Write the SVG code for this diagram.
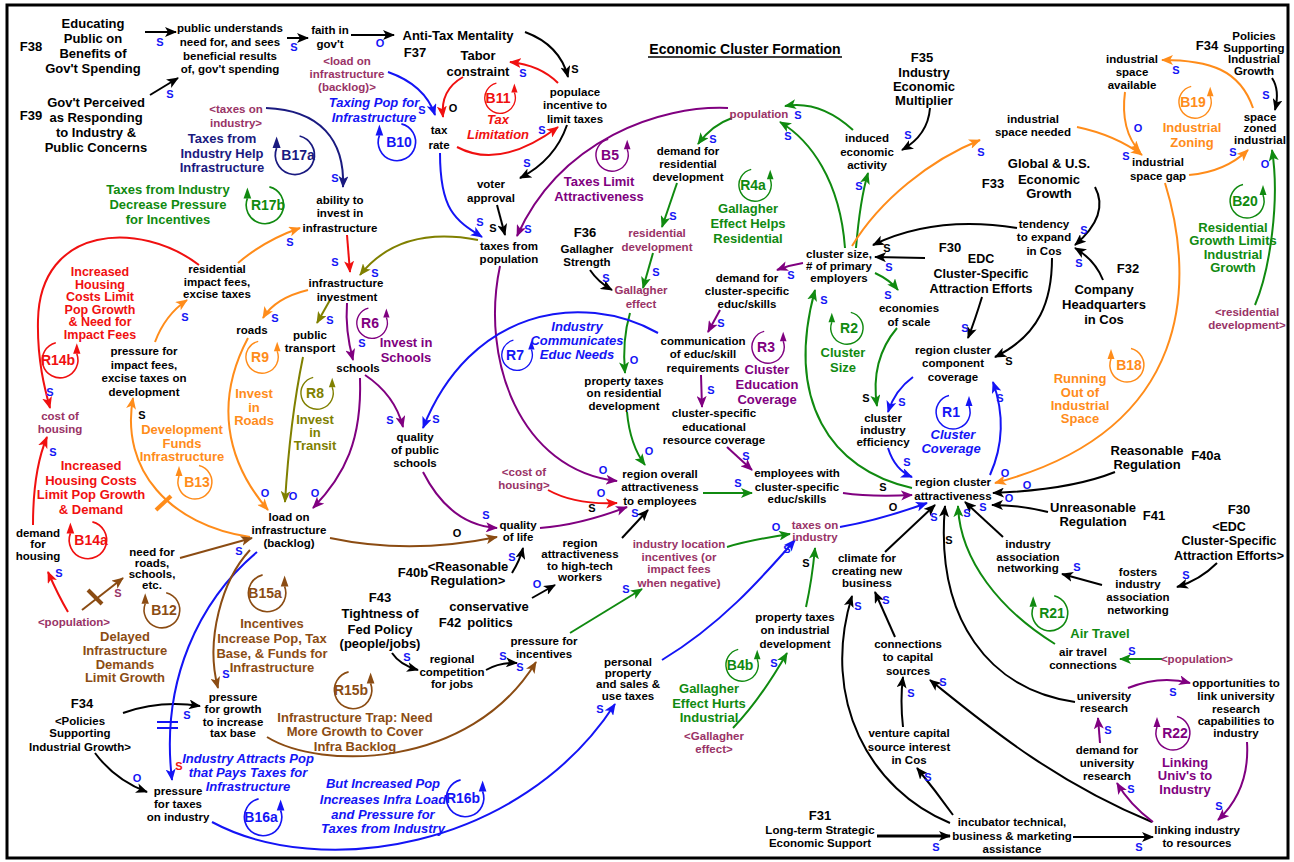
<svg xmlns="http://www.w3.org/2000/svg" width="1294" height="862" viewBox="0 0 1294 862">
<style>
text{font-family:"Liberation Sans",Arial,sans-serif;font-weight:bold;text-anchor:middle}
.n{font-size:11.5px;fill:#000}
.L{font-size:13px;fill:#000}
.m{font-size:11.5px;fill:#993366}
.ps{font-size:11px;fill:#1414f5}
.po{font-size:11px;fill:#1414f5}
.pk{font-size:11px;fill:#000}
.pr{font-size:11px;fill:#f01010}
.pm{font-size:11px;fill:#993366}
.nm{font-size:13px}
.it{font-style:italic}
.id{font-size:14px}
.tg{fill:#108a10}.to{fill:#ff8c1a}.tr{fill:#f01010}.tp{fill:#800080}.tb{fill:#1414f5}.tn{fill:#1a1a80}.tv{fill:#808000}.tw{fill:#8b4c13}
path{fill:none;stroke-width:2}
.ck{stroke:#000;marker-end:url(#mk)}
.cb{stroke:#1414f5;marker-end:url(#mb)}
.cn{stroke:#1a1a80;marker-end:url(#mn)}
.cr{stroke:#f01010;marker-end:url(#mr)}
.cg{stroke:#108a10;marker-end:url(#mg)}
.co{stroke:#ff8c1a;marker-end:url(#mo)}
.cp{stroke:#800080;marker-end:url(#mp)}
.cv{stroke:#808000;marker-end:url(#mv)}
.cw{stroke:#8b4c13;marker-end:url(#mw)}
</style>
<defs>
<marker id="mk" viewBox="0 0 12 10" refX="11" refY="5" markerWidth="12" markerHeight="10" markerUnits="userSpaceOnUse" orient="auto"><path d="M0,0 L12,5 L0,10 L3,5 z" style="fill:#000;stroke:none"/></marker>
<marker id="mb" viewBox="0 0 12 10" refX="11" refY="5" markerWidth="12" markerHeight="10" markerUnits="userSpaceOnUse" orient="auto"><path d="M0,0 L12,5 L0,10 L3,5 z" style="fill:#1414f5;stroke:none"/></marker>
<marker id="mn" viewBox="0 0 12 10" refX="11" refY="5" markerWidth="12" markerHeight="10" markerUnits="userSpaceOnUse" orient="auto"><path d="M0,0 L12,5 L0,10 L3,5 z" style="fill:#1a1a80;stroke:none"/></marker>
<marker id="mr" viewBox="0 0 12 10" refX="11" refY="5" markerWidth="12" markerHeight="10" markerUnits="userSpaceOnUse" orient="auto"><path d="M0,0 L12,5 L0,10 L3,5 z" style="fill:#f01010;stroke:none"/></marker>
<marker id="mg" viewBox="0 0 12 10" refX="11" refY="5" markerWidth="12" markerHeight="10" markerUnits="userSpaceOnUse" orient="auto"><path d="M0,0 L12,5 L0,10 L3,5 z" style="fill:#108a10;stroke:none"/></marker>
<marker id="mo" viewBox="0 0 12 10" refX="11" refY="5" markerWidth="12" markerHeight="10" markerUnits="userSpaceOnUse" orient="auto"><path d="M0,0 L12,5 L0,10 L3,5 z" style="fill:#ff8c1a;stroke:none"/></marker>
<marker id="mp" viewBox="0 0 12 10" refX="11" refY="5" markerWidth="12" markerHeight="10" markerUnits="userSpaceOnUse" orient="auto"><path d="M0,0 L12,5 L0,10 L3,5 z" style="fill:#800080;stroke:none"/></marker>
<marker id="mv" viewBox="0 0 12 10" refX="11" refY="5" markerWidth="12" markerHeight="10" markerUnits="userSpaceOnUse" orient="auto"><path d="M0,0 L12,5 L0,10 L3,5 z" style="fill:#808000;stroke:none"/></marker>
<marker id="mw" viewBox="0 0 12 10" refX="11" refY="5" markerWidth="12" markerHeight="10" markerUnits="userSpaceOnUse" orient="auto"><path d="M0,0 L12,5 L0,10 L3,5 z" style="fill:#8b4c13;stroke:none"/></marker>
<g id="lR"><path d="M-4,-16.5 A17,17 0 1 0 16,-6" style="stroke:currentColor;stroke-width:1.5"/><path d="M16,-16 L12.5,-6 L19.5,-6 z" style="fill:currentColor;stroke:none"/></g>
<g id="lL"><path d="M4,-16.5 A17,17 0 1 1 -16,-6" style="stroke:currentColor;stroke-width:1.5"/><path d="M-16,-16 L-19.5,-6 L-12.5,-6 z" style="fill:currentColor;stroke:none"/></g>
</defs>
<rect x="0" y="0" width="1294" height="862" fill="#fff"/>
<rect x="7" y="5" width="1281" height="853" fill="none" stroke="#000" stroke-width="3"/>

<g id="connectors">
<path class="ck" d="M145,32 L176,32"/>
<path class="ck" d="M150,95 L178,78"/>
<path class="ck" d="M287,38 L308,38"/>
<path class="ck" d="M351,35 L394,35"/>
<path class="ck" d="M525,32 Q560,45 568,77"/>
<path class="ck" d="M567,125 Q555,160 520,178"/>
<path class="ck" d="M497,205 L505,235"/>
<path class="ck" d="M590,270 Q598,282 612,290"/>
<path class="ck" d="M930,108 Q928,135 902,150"/>
<path class="ck" d="M1095,187 Q1110,215 1075,245"/>
<path class="ck" d="M1103,280 Q1095,260 1075,248"/>
<path class="ck" d="M1017,228 Q935,215 873,245"/>
<path class="ck" d="M925,258 L875,257"/>
<path class="ck" d="M982,297 Q975,320 968,338"/>
<path class="ck" d="M1052,258 C1052,300 1040,335 995,357"/>
<path class="ck" d="M1115,472 Q1070,490 993,493"/>
<path class="ck" d="M1048,512 Q1020,505 992,505"/>
<path class="ck" d="M1003,537 L965,502"/>
<path class="ck" d="M1102,585 L1062,574"/>
<path class="ck" d="M1217,563 Q1200,580 1177,587"/>
<path class="ck" d="M885,552 L935,505"/>
<path class="ck" d="M1075,702 C990,690 935,620 945,506"/>
<path class="ck" d="M1152,822 C1050,780 980,720 930,680"/>
<path class="ck" d="M950,823 C870,790 820,700 852,596"/>
<path class="ck" d="M895,637 L875,592"/>
<path class="ck" d="M903,727 Q900,700 903,677"/>
<path class="ck" d="M953,815 Q935,790 917,768"/>
<path class="ck" d="M877,836 L950,836" style="stroke-width:3"/>
<path class="ck" d="M1073,837 L1153,837"/>
<path class="ck" d="M123,713 Q160,700 200,706"/>
<path class="ck" d="M95,753 Q115,780 147,792"/>
<path class="ck" d="M392,653 Q400,665 418,670"/>
<path class="ck" d="M486,670 Q500,662 517,663"/>
<path class="ck" d="M532,598 L555,585"/>
<path class="ck" d="M512,573 Q520,560 523,548"/>
<path class="ck" d="M622,538 L648,510"/>
<path class="ck" d="M1272,78 Q1280,90 1275,110"/>

<path class="cg" d="M853,130 Q820,100 785,106"/>
<path class="cg" d="M845,248 C840,180 810,140 780,122"/>
<path class="cg" d="M856,248 Q860,200 868,173"/>
<path class="cg" d="M732,118 Q712,125 698,144"/>
<path class="cg" d="M677,183 L662,227"/>
<path class="cg" d="M653,253 L643,288"/>
<path class="cg" d="M630,313 Q622,340 625,373"/>
<path class="cg" d="M627,412 Q630,445 645,465"/>
<path class="cg" d="M703,493 L752,493"/>
<path class="cg" d="M875,273 Q890,280 898,290"/>
<path class="cg" d="M897,328 Q870,360 877,406"/>
<path class="cg" d="M912,488 C830,470 785,400 815,290"/>
<path class="cg" d="M727,547 Q750,540 790,534"/>
<path class="cg" d="M570,633 L642,589"/>
<path class="cg" d="M733,728 Q760,700 787,653"/>
<path class="cg" d="M806,607 Q812,580 815,548"/>
<path class="cg" d="M1255,305 C1270,270 1280,200 1272,150"/>
<path class="cg" d="M1162,659 L1120,659"/>
<path class="cg" d="M1055,644 C1000,610 960,560 958,506"/>

<path class="co" d="M852,246 C880,200 930,160 980,140"/>
<path class="co" d="M1077,127 Q1115,135 1142,155"/>
<path class="co" d="M1125,92 Q1120,130 1140,152"/>
<path class="co" d="M1189,175 Q1225,172 1248,150"/>
<path class="co" d="M1253,108 C1240,70 1210,60 1162,60"/>
<path class="co" d="M1165,183 C1195,280 1195,430 995,483"/>
<path class="co" d="M238,263 Q265,240 300,228"/>
<path class="co" d="M308,290 Q275,298 263,318"/>
<path class="co" d="M248,338 C215,400 225,460 268,510"/>
<path class="co" d="M250,537 C170,525 120,470 133,398"/>
<path class="co" d="M155,342 Q165,315 187,300"/>
<path d="M156,510 L171,496" style="stroke:#ff8c1a;stroke-width:4"/>

<path class="cv" d="M478,240 Q400,225 360,275"/>
<path class="cv" d="M330,300 L317,323"/>
<path class="cv" d="M303,357 Q290,420 285,502"/>

<path class="cp" d="M347,303 Q345,330 353,360"/>
<path class="cp" d="M360,378 C362,440 345,475 313,508"/>
<path class="cp" d="M365,375 Q395,395 403,427"/>
<path class="cp" d="M423,472 Q450,525 497,528"/>
<path class="cp" d="M540,528 Q580,525 627,507"/>
<path class="cp" d="M728,108 C660,105 560,140 517,236"/>
<path class="cp" d="M500,266 C480,360 520,470 617,481"/>
<path class="cp" d="M803,263 Q790,265 777,270"/>
<path class="cp" d="M720,310 L708,332"/>
<path class="cp" d="M701,375 L702,407"/>
<path class="cp" d="M727,447 L752,470"/>
<path class="cp" d="M843,493 Q870,497 912,495"/>
<path class="cp" d="M1153,822 Q1130,805 1117,783"/>
<path class="cp" d="M1100,743 L1098,718"/>
<path class="cp" d="M1128,688 Q1160,675 1190,683"/>
<path class="cp" d="M1247,742 Q1250,790 1218,820"/>

<path class="cb" d="M388,72 Q425,85 435,115"/>
<path class="cb" d="M440,153 C440,210 455,220 482,237"/>
<path class="cb" d="M990,475 Q1010,430 993,382"/>
<path class="cb" d="M913,377 Q895,390 888,412"/>
<path class="cb" d="M888,448 Q895,470 912,477"/>
<path class="cb" d="M658,333 C580,290 470,310 423,428"/>
<path class="cb" d="M840,527 Q880,520 927,503"/>
<path class="cb" d="M662,660 C720,625 760,580 795,540"/>
<path class="cb" d="M257,552 C200,600 160,680 172,780"/>
<path class="cb" d="M212,822 C320,880 520,850 615,704"/>
<path d="M157,722 L178,722 M157,728 L178,728" style="stroke:#1414f5;stroke-width:2"/>

<path class="cn" d="M266,108 C320,110 345,140 343,187"/>

<path class="cr" d="M347,235 L350,272"/>
<path class="cr" d="M463,77 Q440,90 443,117"/>
<path class="cr" d="M558,83 Q540,65 510,62"/>
<path class="cr" d="M457,147 Q500,170 558,127"/>
<path class="cr" d="M199,265 C140,220 40,225 38,320 C37,360 45,390 50,408"/>
<path class="cr" d="M33,525 Q33,470 47,437"/>
<path class="cr" d="M68,612 Q58,595 48,572"/>
<path class="cr" d="M548,490 Q575,505 617,503"/>

<path class="cw" d="M82,610 L123,578"/>
<path d="M88,590 L102,604" style="stroke:#8b4c13;stroke-width:4"/>
<path class="cw" d="M180,558 L252,538"/>
<path class="cw" d="M330,538 Q410,555 497,537"/>
<path class="cw" d="M250,550 C222,580 205,640 218,688"/>
<path class="cw" d="M267,737 C320,770 470,770 536,662"/>
</g>

<g id="polarities">
<text class="ps" x="160" y="46">S</text><text class="ps" x="170" y="98">S</text><text class="ps" x="294" y="51">S</text><text class="ps" x="422" y="114">S</text>
<text class="ps" x="523" y="77">S</text><text class="ps" x="542" y="134">S</text><text class="ps" x="527" y="167">S</text><text class="ps" x="480" y="226">S</text>
<text class="ps" x="528" y="233">S</text><text class="ps" x="606" y="282">S</text><text class="ps" x="798" y="119">S</text><text class="ps" x="788" y="140">S</text>
<text class="ps" x="713" y="143">S</text><text class="ps" x="908" y="139">S</text><text class="ps" x="859" y="190">S</text><text class="ps" x="673" y="220">S</text>
<text class="ps" x="656" y="276">S</text><text class="ps" x="791" y="279">S</text><text class="ps" x="889" y="271">S</text><text class="ps" x="888" y="299">S</text>
<text class="ps" x="721" y="327">S</text><text class="ps" x="711" y="394">S</text><text class="ps" x="824" y="304">S</text><text class="ps" x="965" y="332">S</text>
<text class="ps" x="1084" y="234">S</text><text class="ps" x="1079" y="267">S</text><text class="ps" x="981" y="156">S</text><text class="ps" x="1126" y="160">S</text>
<text class="ps" x="1233" y="156">S</text><text class="ps" x="1176" y="74">S</text><text class="ps" x="1266" y="99">S</text><text class="ps" x="335" y="182">S</text>
<text class="ps" x="290" y="246">S</text><text class="ps" x="335" y="266">S</text><text class="ps" x="375" y="277">S</text><text class="ps" x="275" y="322">S</text>
<text class="ps" x="330" y="324">S</text><text class="ps" x="362" y="347">S</text><text class="ps" x="390" y="424">S</text><text class="ps" x="436" y="423">S</text>
<text class="ps" x="486" y="519">S</text><text class="ps" x="50" y="396">S</text><text class="ps" x="53" y="456">S</text><text class="ps" x="185" y="321">S</text>
<text class="ps" x="239" y="555">S</text><text class="ps" x="59" y="577">S</text><text class="ps" x="187" y="719">S</text><text class="ps" x="226" y="678">S</text>
<text class="ps" x="407" y="661">S</text><text class="ps" x="503" y="660">S</text><text class="ps" x="520" y="671">S</text><text class="ps" x="626" y="593">S</text>
<text class="ps" x="512" y="561">S</text><text class="ps" x="635" y="517">S</text><text class="ps" x="746" y="460">S</text><text class="ps" x="738" y="487">S</text>
<text class="ps" x="902" y="406">S</text><text class="ps" x="907" y="466">S</text><text class="ps" x="1000" y="402">S</text><text class="ps" x="934" y="521">S</text>
<text class="ps" x="967" y="517">S</text><text class="ps" x="983" y="511">S</text><text class="ps" x="1077" y="571">S</text><text class="ps" x="1186" y="579">S</text>
<text class="ps" x="1132" y="655">S</text><text class="ps" x="787" y="553">S</text><text class="ps" x="774" y="667">S</text><text class="ps" x="600" y="713">S</text>
<text class="ps" x="858" y="610">S</text><text class="ps" x="886" y="604">S</text><text class="ps" x="911" y="697">S</text><text class="ps" x="943" y="686">S</text>
<text class="ps" x="928" y="781">S</text><text class="ps" x="936" y="851">S</text><text class="ps" x="1139" y="851">S</text><text class="ps" x="1131" y="793">S</text>
<text class="ps" x="1108" y="734">S</text><text class="ps" x="1173" y="696">S</text><text class="ps" x="1219" y="810">S</text>
<text class="po" x="380" y="47">O</text><text class="po" x="1138" y="132">O</text><text class="po" x="1265" y="168">O</text><text class="po" x="634" y="364">O</text>
<text class="po" x="649" y="455">O</text><text class="po" x="603" y="474">O</text><text class="po" x="601" y="497">O</text><text class="po" x="776" y="531">O</text>
<text class="po" x="265" y="497">O</text><text class="po" x="293" y="500">O</text><text class="po" x="315" y="497">O</text><text class="po" x="137" y="782">O</text>
<text class="po" x="537" y="588">O</text><text class="po" x="1005" y="477">O</text><text class="po" x="1027" y="489">O</text><text class="po" x="1009" y="502">O</text>
<text class="pk" x="575" y="73">S</text><text class="pk" x="493" y="232">S</text><text class="pk" x="887" y="252">S</text><text class="pk" x="1009" y="365">S</text>
<text class="pk" x="866" y="402">S</text><text class="pk" x="883" y="491">S</text><text class="pk" x="592" y="512">S</text><text class="pk" x="142" y="419">S</text>
<text class="pk" x="806" y="567">S</text><text class="pk" x="949" y="544">S</text>
<text class="pk" x="453" y="112">O</text><text class="pk" x="893" y="511">O</text><text class="pk" x="457" y="537">O</text>
<text class="pr" x="179" y="770">S</text><text class="pm" x="118" y="597">S</text>
</g>

<g id="loops">
<use href="#lL" transform="translate(397,142) scale(1.1)" color="#1414f5"/><text class="id tb" x="399" y="147">B10</text>
<use href="#lR" transform="translate(500,98) scale(0.9)" color="#f01010"/><text class="id tr" x="498" y="103">B11</text>
<use href="#lR" transform="translate(612,155) scale(0.95)" color="#800080"/><text class="id tp" x="610" y="160">B5</text>
<use href="#lL" transform="translate(295,155) scale(1.15)" color="#1a1a80"/><text class="id tn" x="298" y="160">B17a</text>
<use href="#lL" transform="translate(265,205) scale(1.1)" color="#108a10"/><text class="id tg" x="268" y="210">R17b</text>
<use href="#lR" transform="translate(755,185) scale(0.95)" color="#108a10"/><text class="id tg" x="753" y="190">R4a</text>
<use href="#lR" transform="translate(1195,102) scale(0.95)" color="#ff8c1a"/><text class="id to" x="1193" y="107">B19</text>
<use href="#lR" transform="translate(1247,201) scale(1.0)" color="#108a10"/><text class="id tg" x="1245" y="206">B20</text>
<use href="#lR" transform="translate(60,360) scale(1.05)" color="#f01010"/><text class="id tr" x="58" y="365">R14b</text>
<use href="#lL" transform="translate(195,482) scale(1.0)" color="#ff8c1a"/><text class="id to" x="197" y="487">B13</text>
<use href="#lL" transform="translate(88,540) scale(1.1)" color="#f01010"/><text class="id tr" x="91" y="545">B14a</text>
<use href="#lR" transform="translate(262,357) scale(0.95)" color="#ff8c1a"/><text class="id to" x="260" y="362">R9</text>
<use href="#lR" transform="translate(317,393) scale(0.95)" color="#808000"/><text class="id tv" x="315" y="398">R8</text>
<use href="#lR" transform="translate(372,323) scale(0.9)" color="#800080"/><text class="id tp" x="370" y="328">R6</text>
<use href="#lR" transform="translate(517,355) scale(0.9)" color="#1414f5"/><text class="id tb" x="515" y="360">R7</text>
<use href="#lR" transform="translate(768,347) scale(0.95)" color="#800080"/><text class="id tp" x="766" y="352">R3</text>
<use href="#lL" transform="translate(847,328) scale(0.95)" color="#108a10"/><text class="id tg" x="849" y="333">R2</text>
<use href="#lR" transform="translate(953,412) scale(1.0)" color="#1414f5"/><text class="id tb" x="951" y="417">R1</text>
<use href="#lL" transform="translate(1127,365) scale(1.0)" color="#ff8c1a"/><text class="id to" x="1129" y="370">B18</text>
<use href="#lL" transform="translate(162,610) scale(1.05)" color="#8b4c13"/><text class="id tw" x="164" y="615">B12</text>
<use href="#lR" transform="translate(267,593) scale(1.1)" color="#8b4c13"/><text class="id tw" x="265" y="598">B15a</text>
<use href="#lR" transform="translate(353,690) scale(1.1)" color="#8b4c13"/><text class="id tw" x="351" y="695">R15b</text>
<use href="#lR" transform="translate(263,817) scale(1.1)" color="#1414f5"/><text class="id tb" x="261" y="822">B16a</text>
<use href="#lR" transform="translate(465,798) scale(1.1)" color="#1414f5"/><text class="id tb" x="463" y="803">R16b</text>
<use href="#lR" transform="translate(742,665) scale(0.95)" color="#108a10"/><text class="id tg" x="740" y="670">B4b</text>
<use href="#lL" transform="translate(1050,613) scale(1.05)" color="#108a10"/><text class="id tg" x="1052" y="618">R21</text>
<use href="#lL" transform="translate(1173,733) scale(1.0)" color="#800080"/><text class="id tp" x="1175" y="738">R22</text>
</g>

<g id="loop-names">
<text class="nm tb it"><tspan x="374" y="107">Taxing Pop for</tspan><tspan x="374" y="122">Infrastructure</tspan></text>
<text class="nm tr it"><tspan x="498" y="124">Tax</tspan><tspan x="498" y="139">Limitation</tspan></text>
<text class="nm tp"><tspan x="599" y="186">Taxes Limit</tspan><tspan x="599" y="201">Attractiveness</tspan></text>
<text class="nm tn"><tspan x="222" y="143">Taxes from</tspan><tspan x="222" y="158">Industry Help</tspan><tspan x="222" y="172">Infrastructure</tspan></text>
<text class="nm tg"><tspan x="168" y="194">Taxes from Industry</tspan><tspan x="168" y="209">Decrease Pressure</tspan><tspan x="168" y="224">for Incentives</tspan></text>
<text class="nm tg"><tspan x="748" y="213">Gallagher</tspan><tspan x="748" y="228">Effect Helps</tspan><tspan x="748" y="243">Residential</tspan></text>
<text class="nm to"><tspan x="1192" y="132">Industrial</tspan><tspan x="1192" y="147">Zoning</tspan></text>
<text class="nm tg"><tspan x="1233" y="232">Residential</tspan><tspan x="1233" y="245">Growth Limits</tspan><tspan x="1233" y="259">Industrial</tspan><tspan x="1233" y="272">Growth</tspan></text>
<text class="tr" style="font-size:12.5px"><tspan x="100" y="276">Increased</tspan><tspan x="100" y="288.5">Housing</tspan><tspan x="100" y="301">Costs Limit</tspan><tspan x="100" y="313.5">Pop Growth</tspan><tspan x="100" y="326">&amp; Need for</tspan><tspan x="100" y="338.5">Impact Fees</tspan></text>
<text class="nm to"><tspan x="182" y="434">Development</tspan><tspan x="182" y="448">Funds</tspan><tspan x="182" y="461">Infrastructure</tspan></text>
<text class="nm tr"><tspan x="91" y="470">Increased</tspan><tspan x="91" y="485">Housing Costs</tspan><tspan x="91" y="499">Limit Pop Growth</tspan><tspan x="91" y="514">&amp; Demand</tspan></text>
<text class="nm to"><tspan x="254" y="398">Invest</tspan><tspan x="254" y="412">in</tspan><tspan x="254" y="425">Roads</tspan></text>
<text class="nm tv"><tspan x="315" y="424">Invest</tspan><tspan x="315" y="437">in</tspan><tspan x="315" y="450">Transit</tspan></text>
<text class="nm tp"><tspan x="406" y="347">Invest in</tspan><tspan x="406" y="362">Schools</tspan></text>
<text class="nm tb it"><tspan x="577" y="331">Industry</tspan><tspan x="577" y="345">Communicates</tspan><tspan x="577" y="359">Educ Needs</tspan></text>
<text class="nm tp"><tspan x="767" y="374">Cluster</tspan><tspan x="767" y="389">Education</tspan><tspan x="767" y="404">Coverage</tspan></text>
<text class="nm tg"><tspan x="843" y="357">Cluster</tspan><tspan x="843" y="372">Size</tspan></text>
<text class="nm tb it"><tspan x="953" y="439">Cluster</tspan><tspan x="951" y="453">Coverage</tspan></text>
<text class="nm to"><tspan x="1080" y="383">Running</tspan><tspan x="1080" y="397">Out of</tspan><tspan x="1080" y="410">Industrial</tspan><tspan x="1080" y="423">Space</tspan></text>
<text class="nm tw"><tspan x="125" y="641">Delayed</tspan><tspan x="125" y="655">Infrastructure</tspan><tspan x="125" y="669">Demands</tspan><tspan x="125" y="682">Limit Growth</tspan></text>
<text class="nm tw"><tspan x="272" y="628">Incentives</tspan><tspan x="272" y="643">Increase Pop, Tax</tspan><tspan x="272" y="658">Base, &amp; Funds for</tspan><tspan x="272" y="672">Infrastructure</tspan></text>
<text class="nm tw"><tspan x="355" y="722">Infrastructure Trap: Need</tspan><tspan x="355" y="736">More Growth to Cover</tspan><tspan x="355" y="751">Infra Backlog</tspan></text>
<text class="nm tb it"><tspan x="248" y="763">Industry Attracts Pop</tspan><tspan x="248" y="777">that Pays Taxes for</tspan><tspan x="248" y="791">Infrastructure</tspan></text>
<text class="nm tb it"><tspan x="383" y="788">But Increased Pop</tspan><tspan x="383" y="804">Increases Infra Load</tspan><tspan x="383" y="819">and Pressure for</tspan><tspan x="383" y="833">Taxes from Industry</tspan></text>
<text class="nm tg"><tspan x="709" y="693">Gallagher</tspan><tspan x="709" y="708">Effect Hurts</tspan><tspan x="709" y="722">Industrial</tspan></text>
<text class="nm tg" x="1100" y="638">Air Travel</text>
<text class="nm tp"><tspan x="1185" y="767">Linking</tspan><tspan x="1185" y="780">Univ's to</tspan><tspan x="1185" y="794">Industry</tspan></text>
</g>

<g id="title"><text style="font-size:14px" x="745" y="54">Economic Cluster Formation</text><line x1="648" y1="57" x2="842" y2="57" stroke="#000" stroke-width="1.5"/></g>

<g id="f38"><text class="L" x="31" y="51">F38</text><text class="L"><tspan x="93" y="28">Educating</tspan><tspan x="93" y="43">Public on</tspan><tspan x="93" y="58">Benefits of</tspan><tspan x="93" y="73">Gov't Spending</tspan></text></g>
<g id="f39"><text class="L" x="31" y="120">F39</text><text class="L"><tspan x="96" y="107">Gov't Perceived</tspan><tspan x="96" y="122">as Responding</tspan><tspan x="96" y="137">to Industry &amp;</tspan><tspan x="96" y="152">Public Concerns</tspan></text></g>
<g id="public-understands"><text class="n"><tspan x="230" y="32">public understands</tspan><tspan x="230" y="46">need for, and sees</tspan><tspan x="230" y="60">beneficial results</tspan><tspan x="230" y="73">of, gov't spending</tspan></text></g>
<g id="faith"><text class="n"><tspan x="330" y="34">faith in</tspan><tspan x="330" y="48">gov't</tspan></text></g>
<g id="anti-tax"><text class="L" x="458" y="40">Anti-Tax Mentality</text><text class="L" x="415" y="57">F37</text></g>
<g id="tabor"><text class="L"><tspan x="478" y="60">Tabor</tspan><tspan x="478" y="76">constraint</tspan></text></g>
<g id="load-shadow"><text class="m"><tspan x="347" y="65">&lt;load on</tspan><tspan x="347" y="78">infrastructure</tspan><tspan x="347" y="91">(backlog)&gt;</tspan></text></g>
<g id="tax-rate"><text class="n"><tspan x="439" y="134">tax</tspan><tspan x="439" y="149">rate</tspan></text></g>
<g id="populace"><text class="n"><tspan x="575" y="96">populace</tspan><tspan x="575" y="109">incentive to</tspan><tspan x="575" y="123">limit taxes</tspan></text></g>
<g id="voter"><text class="n"><tspan x="491" y="188">voter</tspan><tspan x="491" y="202">approval</tspan></text></g>
<g id="taxes-pop"><text class="n"><tspan x="509" y="250">taxes from</tspan><tspan x="509" y="263">population</tspan></text></g>
<g id="f36"><text class="L" x="585" y="237">F36</text><text class="n"><tspan x="587" y="253">Gallagher</tspan><tspan x="587" y="266">Strength</tspan></text></g>
<g id="f35"><text class="L" x="922" y="62">F35</text><text class="L"><tspan x="924" y="77">Industry</tspan><tspan x="924" y="91">Economic</tspan><tspan x="924" y="105">Multiplier</tspan></text></g>
<g id="population"><text class="m" x="759" y="118">population</text></g>
<g id="demand-res"><text class="n"><tspan x="688" y="155">demand for</tspan><tspan x="688" y="168">residential</tspan><tspan x="688" y="181">development</tspan></text></g>
<g id="induced"><text class="n"><tspan x="867" y="142">induced</tspan><tspan x="867" y="156">economic</tspan><tspan x="867" y="169">activity</tspan></text></g>
<g id="res-dev"><text class="m"><tspan x="657" y="237">residential</tspan><tspan x="657" y="251">development</tspan></text></g>
<g id="gallagher-effect"><text class="m"><tspan x="641" y="294">Gallagher</tspan><tspan x="641" y="308">effect</tspan></text></g>
<g id="cluster-size"><text class="n"><tspan x="839" y="258">cluster size,</tspan><tspan x="839" y="270">#  of primary</tspan><tspan x="839" y="282">employers</tspan></text></g>
<g id="demand-cluster"><text class="n"><tspan x="747" y="282">demand for</tspan><tspan x="747" y="295">cluster-specific</tspan><tspan x="747" y="308">educ/skills</tspan></text></g>
<g id="f30a"><text class="L" x="950" y="252">F30</text><text class="L" style="font-size:12.5px"><tspan x="981" y="263">EDC</tspan><tspan x="981" y="278">Cluster-Specific</tspan><tspan x="981" y="293">Attraction Efforts</tspan></text></g>
<g id="f34a"><text class="L" x="1207" y="50">F34</text><text class="n"><tspan x="1254" y="40">Policies</tspan><tspan x="1254" y="52">Supporting</tspan><tspan x="1254" y="63">Industrial</tspan><tspan x="1254" y="75">Growth</tspan></text></g>
<g id="space-available"><text class="n"><tspan x="1132" y="63">industrial</tspan><tspan x="1132" y="76">space</tspan><tspan x="1132" y="89">available</tspan></text></g>
<g id="space-zoned"><text class="n"><tspan x="1260" y="121">space</tspan><tspan x="1260" y="132">zoned</tspan><tspan x="1260" y="144">industrial</tspan></text></g>
<g id="space-needed"><text class="n"><tspan x="1033" y="123">industrial</tspan><tspan x="1033" y="136">space needed</tspan></text></g>
<g id="space-gap"><text class="n"><tspan x="1158" y="166">industrial</tspan><tspan x="1158" y="180">space gap</tspan></text></g>
<g id="f33"><text class="L" x="993" y="188">F33</text><text class="L"><tspan x="1049" y="168">Global &amp; U.S.</tspan><tspan x="1049" y="184">Economic</tspan><tspan x="1049" y="198">Growth</tspan></text></g>
<g id="tendency"><text class="n"><tspan x="1044" y="228">tendency</tspan><tspan x="1044" y="241">to expand</tspan><tspan x="1044" y="255">in Cos</tspan></text></g>
<g id="f32"><text class="L" x="1128" y="273">F32</text><text class="L"><tspan x="1104" y="294">Company</tspan><tspan x="1104" y="309">Headquarters</tspan><tspan x="1104" y="324">in Cos</tspan></text></g>
<g id="res-dev-shadow"><text class="m"><tspan x="1247" y="316">&lt;residential</tspan><tspan x="1247" y="329">development&gt;</tspan></text></g>
<g id="component"><text class="n"><tspan x="953" y="354">region cluster</tspan><tspan x="953" y="367">component</tspan><tspan x="953" y="381">coverage</tspan></text></g>
<g id="economies"><text class="n"><tspan x="909" y="312">economies</tspan><tspan x="909" y="326">of scale</tspan></text></g>
<g id="communication"><text class="n"><tspan x="703" y="345">communication</tspan><tspan x="703" y="358">of educ/skill</tspan><tspan x="703" y="372">requirements</tspan></text></g>
<g id="edu-coverage"><text class="n"><tspan x="714" y="417">cluster-specific</tspan><tspan x="714" y="431">educational</tspan><tspan x="714" y="444">resource coverage</tspan></text></g>
<g id="efficiency"><text class="n"><tspan x="883" y="422">cluster</tspan><tspan x="883" y="434">industry</tspan><tspan x="883" y="446">efficiency</tspan></text></g>
<g id="attractiveness"><text class="n"><tspan x="953" y="486">region cluster</tspan><tspan x="953" y="500">attractiveness</tspan></text></g>
<g id="employees"><text class="n"><tspan x="797" y="477">employees with</tspan><tspan x="797" y="491">cluster-specific</tspan><tspan x="797" y="503">educ/skills</tspan></text></g>
<g id="region-overall"><text class="n"><tspan x="660" y="478">region overall</tspan><tspan x="660" y="491">attractiveness</tspan><tspan x="660" y="505">to employees</tspan></text></g>
<g id="prop-res"><text class="n"><tspan x="624" y="385">property taxes</tspan><tspan x="624" y="397">on residential</tspan><tspan x="624" y="410">development</tspan></text></g>
<g id="cost-housing-shadow"><text class="m"><tspan x="524" y="476">&lt;cost of</tspan><tspan x="524" y="489">housing&gt;</tspan></text></g>
<g id="quality-life"><text class="n"><tspan x="518" y="529">quality</tspan><tspan x="518" y="541">of life</tspan></text></g>
<g id="quality-schools"><text class="n"><tspan x="415" y="441">quality</tspan><tspan x="415" y="454">of public</tspan><tspan x="415" y="467">schools</tspan></text></g>
<g id="schools"><text class="n" x="358" y="372">schools</text></g>
<g id="high-tech"><text class="n"><tspan x="580" y="547">region</tspan><tspan x="580" y="558">attractiveness</tspan><tspan x="580" y="570">to high-tech</tspan><tspan x="580" y="581">workers</tspan></text></g>
<g id="f40b"><text class="L" x="413" y="577">F40b</text><text class="L"><tspan x="468" y="571">&lt;Reasonable</tspan><tspan x="468" y="585">Regulation&gt;</tspan></text></g>
<g id="incentives-loc"><text class="m"><tspan x="679" y="548">industry location</tspan><tspan x="679" y="561">incentives (or</tspan><tspan x="679" y="573">impact fees</tspan><tspan x="679" y="587">when negative)</tspan></text></g>
<g id="taxes-industry"><text class="m"><tspan x="815" y="529">taxes on</tspan><tspan x="815" y="541">industry</tspan></text></g>
<g id="climate"><text class="n"><tspan x="867" y="562">climate for</tspan><tspan x="867" y="575">creating new</tspan><tspan x="867" y="587">business</tspan></text></g>
<g id="f40a"><text class="L"><tspan x="1147" y="455">Reasonable</tspan><tspan x="1147" y="469">Regulation</tspan></text><text class="L" x="1206" y="460">F40a</text></g>
<g id="f41"><text class="L"><tspan x="1093" y="512">Unreasonable</tspan><tspan x="1093" y="526">Regulation</tspan></text><text class="L" x="1154" y="520">F41</text></g>
<g id="f30b"><text class="L" x="1239" y="514">F30</text><text class="L" style="font-size:12.5px"><tspan x="1229" y="531">&lt;EDC</tspan><tspan x="1229" y="545">Cluster-Specific</tspan><tspan x="1229" y="560">Attraction Efforts&gt;</tspan></text></g>
<g id="networking"><text class="n"><tspan x="1028" y="548">industry</tspan><tspan x="1028" y="561">association</tspan><tspan x="1028" y="572">networking</tspan></text></g>
<g id="fosters"><text class="n"><tspan x="1138" y="576">fosters</tspan><tspan x="1138" y="588">industry</tspan><tspan x="1138" y="601">association</tspan><tspan x="1138" y="614">networking</tspan></text></g>
<g id="air-travel"><text class="n"><tspan x="1083" y="656">air travel</tspan><tspan x="1083" y="669">connections</tspan></text></g>
<g id="population-shadow-r"><text class="m" x="1197" y="663">&lt;population&gt;</text></g>
<g id="univ-research"><text class="n"><tspan x="1104" y="700">university</tspan><tspan x="1104" y="712">research</tspan></text></g>
<g id="opportunities"><text class="n"><tspan x="1236" y="687">opportunities to</tspan><tspan x="1236" y="700">link university</tspan><tspan x="1236" y="713">research</tspan><tspan x="1236" y="725">capabilities to</tspan><tspan x="1236" y="737">industry</tspan></text></g>
<g id="demand-univ"><text class="n"><tspan x="1107" y="754">demand for</tspan><tspan x="1107" y="767">university</tspan><tspan x="1107" y="780">research</tspan></text></g>
<g id="linking"><text class="n"><tspan x="1197" y="834">linking industry</tspan><tspan x="1197" y="847">to resources</tspan></text></g>
<g id="incubator"><text class="n"><tspan x="1012" y="826">incubator technical,</tspan><tspan x="1012" y="840">business &amp; marketing</tspan><tspan x="1012" y="853">assistance</tspan></text></g>
<g id="f31"><text class="L" x="820" y="820">F31</text><text class="n"><tspan x="820" y="834">Long-term Strategic</tspan><tspan x="820" y="847">Economic Support</tspan></text></g>
<g id="venture"><text class="n"><tspan x="909" y="737">venture capital</tspan><tspan x="909" y="751">source interest</tspan><tspan x="909" y="764">in Cos</tspan></text></g>
<g id="connections"><text class="n"><tspan x="908" y="648">connections</tspan><tspan x="908" y="661">to capital</tspan><tspan x="908" y="675">sources</tspan></text></g>
<g id="prop-ind"><text class="n"><tspan x="795" y="621">property taxes</tspan><tspan x="795" y="634">on industrial</tspan><tspan x="795" y="648">development</tspan></text></g>
<g id="gallagher-shadow"><text class="m"><tspan x="714" y="740">&lt;Gallagher</tspan><tspan x="714" y="753">effect&gt;</tspan></text></g>
<g id="personal-taxes"><text class="n"><tspan x="628" y="666">personal</tspan><tspan x="628" y="677">property</tspan><tspan x="628" y="688">and sales &amp;</tspan><tspan x="628" y="700">use taxes</tspan></text></g>
<g id="pressure-incentives"><text class="n"><tspan x="544" y="645">pressure for</tspan><tspan x="544" y="658">incentives</tspan></text></g>
<g id="regional-competition"><text class="n"><tspan x="452" y="663">regional</tspan><tspan x="452" y="676">competition</tspan><tspan x="452" y="688">for jobs</tspan></text></g>
<g id="f42"><text class="L"><tspan x="489" y="611">conservative</tspan><tspan x="490" y="627">politics</tspan></text><text class="L" x="450" y="627">F42</text></g>
<g id="f43"><text class="L" x="380" y="602">F43</text><text class="L"><tspan x="380" y="618">Tightness of</tspan><tspan x="380" y="634">Fed Policy</tspan><tspan x="380" y="648">(people/jobs)</tspan></text></g>
<g id="pressure-taxes"><text class="n"><tspan x="178" y="795">pressure</tspan><tspan x="178" y="808">for taxes</tspan><tspan x="178" y="821">on industry</tspan></text></g>
<g id="pressure-growth"><text class="n"><tspan x="233" y="701">pressure</tspan><tspan x="233" y="713">for growth</tspan><tspan x="233" y="726">to increase</tspan><tspan x="233" y="737">tax base</tspan></text></g>
<g id="f34b"><text class="L" x="82" y="708">F34</text><text class="n"><tspan x="80" y="725">&lt;Policies</tspan><tspan x="80" y="737">Supporting</tspan><tspan x="80" y="751">Industrial Growth&gt;</tspan></text></g>
<g id="population-shadow-l"><text class="m" x="74" y="626">&lt;population&gt;</text></g>
<g id="need-roads"><text class="n"><tspan x="152" y="556">need for</tspan><tspan x="152" y="567">roads,</tspan><tspan x="152" y="578">schools,</tspan><tspan x="152" y="589">etc.</tspan></text></g>
<g id="load"><text class="n"><tspan x="289" y="521">load on</tspan><tspan x="289" y="534">infrastructure</tspan><tspan x="289" y="547">(backlog)</tspan></text></g>
<g id="demand-housing"><text class="n"><tspan x="38" y="537">demand</tspan><tspan x="38" y="548">for</tspan><tspan x="38" y="560">housing</tspan></text></g>
<g id="cost-housing"><text class="m"><tspan x="60" y="420">cost of</tspan><tspan x="60" y="433">housing</tspan></text></g>
<g id="pressure-impact"><text class="n"><tspan x="144" y="355">pressure for</tspan><tspan x="144" y="369">impact fees,</tspan><tspan x="144" y="382">excise taxes on</tspan><tspan x="144" y="396">development</tspan></text></g>
<g id="roads"><text class="n" x="252" y="334">roads</text></g>
<g id="transport"><text class="n"><tspan x="310" y="339">public</tspan><tspan x="310" y="352">transport</tspan></text></g>
<g id="infra-investment"><text class="n"><tspan x="346" y="287">infrastructure</tspan><tspan x="347" y="301">investment</tspan></text></g>
<g id="ability"><text class="n"><tspan x="340" y="204">ability to</tspan><tspan x="340" y="217">invest in</tspan><tspan x="340" y="232">infrastructure</tspan></text></g>
<g id="impact-fees"><text class="n"><tspan x="217" y="273">residential</tspan><tspan x="217" y="286">impact fees,</tspan><tspan x="217" y="298">excise taxes</tspan></text></g>
<g id="taxes-industry-shadow"><text class="m"><tspan x="236" y="113">&lt;taxes on</tspan><tspan x="236" y="127">industry&gt;</tspan></text></g>
</svg>
